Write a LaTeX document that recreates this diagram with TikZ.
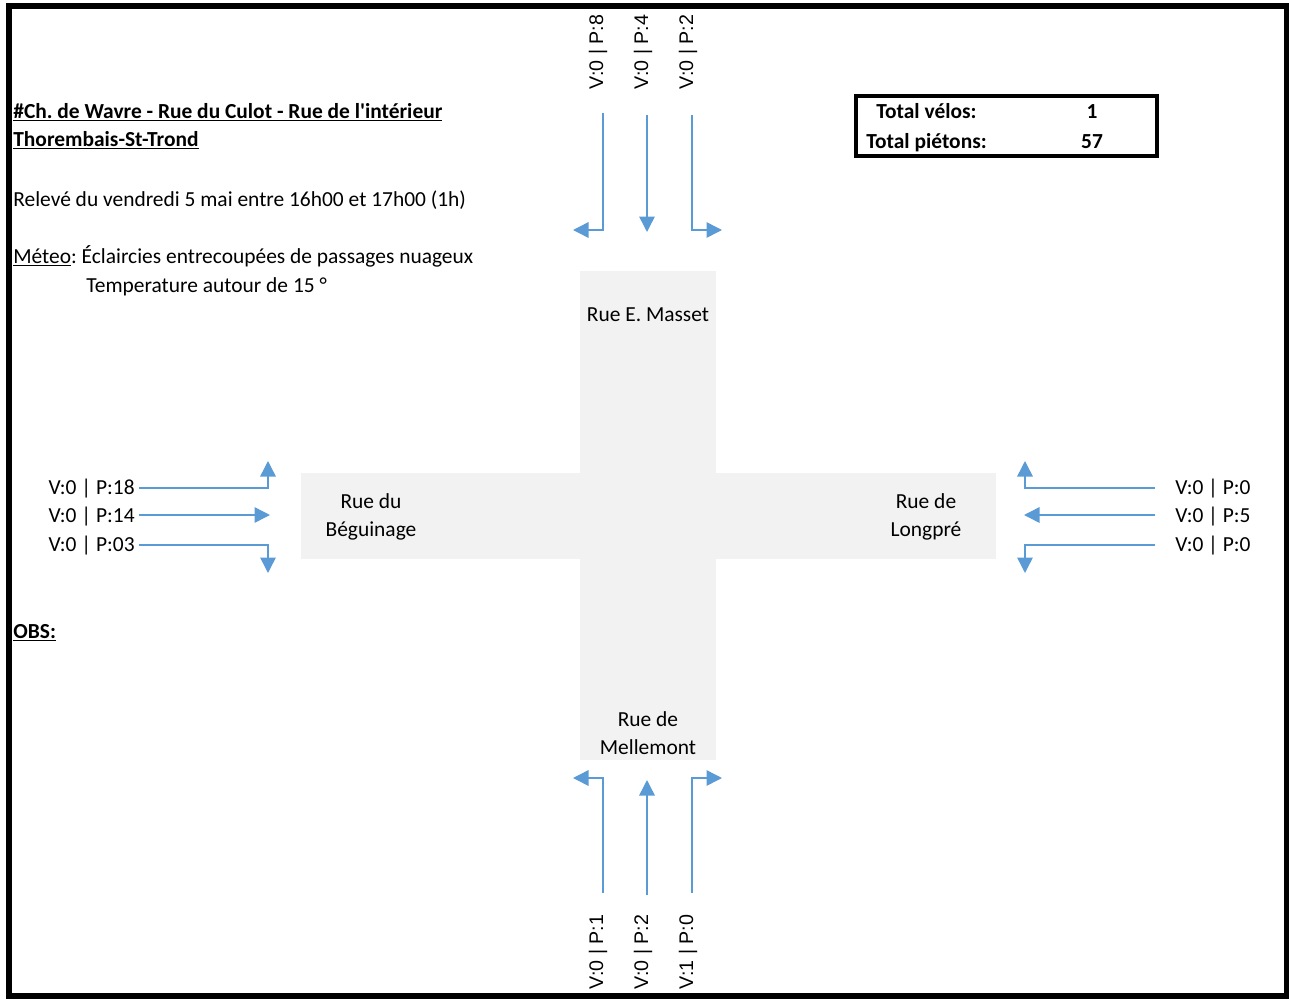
\documentclass[tikz,border=0pt]{standalone}
\usepackage{fontspec}
\setmainfont{Carlito}
\newfontfamily\armfont{Liberation Sans}
\usepackage{xcolor}
\usetikzlibrary{arrows.meta,calc}
\frenchspacing

\definecolor{roadgray}{HTML}{F2F2F2}
\definecolor{flowblue}{HTML}{5B9BD5}

\begin{document}
\begin{tikzpicture}[
  x=0.02cm, y=-0.02cm,
  txt/.style={font=\fontsize{12.2}{14}\selectfont, inner sep=0pt},
  hdr/.style={txt, font=\fontsize{12.2}{14}\selectfont\bfseries},
  road/.style={txt, align=center},
  cnt/.style={txt},
  vcnt/.style={font=\armfont\fontsize{11.2}{13}\selectfont, inner sep=0pt, rotate=90},
  flow/.style={draw=flowblue, line width=0.85pt, -{Triangle[length=3.1mm, width=3.1mm]}}
]
\useasboundingbox (0,0) rectangle (1289,1001);

% roads
\fill[roadgray] (580,271) rectangle (716,760);
\fill[roadgray] (301,473) rectangle (996,559);

% outer frame
\draw[line width=3.4pt] (9,6) rectangle (1287,996);

% header text
\node[hdr, anchor=base west] (title) at (13,118) {\underline{\#Ch. de Wavre - Rue du Culot - Rue de l\textquotesingle intérieur}};
\node[hdr, anchor=base west] (town) at (13,146) {\underline{Thorembais-St-Trond}};
\node[txt, anchor=base west] (date) at (13,206) {Relevé du vendredi 5 mai entre 16h00 et 17h00 (1h)};
\node[txt, anchor=base west] (meteo) at (13,263) {\underline{Méteo}: Éclaircies entrecoupées de passages nuageux};
\node[txt, anchor=base west] (temp) at (86,292) {Temperature autour de 15 °};
\node[hdr, anchor=base west] (obs) at (13,638) {\underline{OBS:}};

% totals
\draw[line width=2.4pt] (856,96) rectangle (1157,156);
\node[hdr, anchor=base west] (velos) at (876,118) {Total vélos:};
\node[hdr, anchor=base] (velosn) at (1092,118) {1};
\node[hdr, anchor=base west] (pietons) at (866,148) {Total piétons:};
\node[hdr, anchor=base] (pietonsn) at (1092,148) {57};

% road names
\node[road] (masset) at (648,315) {Rue E. Masset};
\node[road] (beguinage) at (371,517) {Rue du\\[2pt]Béguinage};
\node[road] (longpre) at (926,517) {Rue de\\[2pt]Longpré};
\node[road] (mellemont) at (648,733) {Rue de\\[2pt]Mellemont};

% counts north
\node[vcnt] (n1) at (598,52) {V:0 | P:8};
\node[vcnt] (n2) at (643,52) {V:0 | P:4};
\node[vcnt] (n3) at (688,52) {V:0 | P:2};
\coordinate (n1s) at (603,113);
\coordinate (n2s) at (647,115);
\coordinate (n3s) at (692,115);
\coordinate (n1e) at (573,230);
\coordinate (n2e) at (647,232);
\coordinate (n3e) at (722,230);
\draw[flow] (n1s) |- (n1e);
\draw[flow] (n2s) -- (n2e);
\draw[flow] (n3s) |- (n3e);

% counts south
\node[vcnt] (s1) at (598,952) {V:0 | P:1};
\node[vcnt] (s2) at (643,952) {V:0 | P:2};
\node[vcnt] (s3) at (688,952) {V:1 | P:0};
\coordinate (s1s) at (603,893);
\coordinate (s2s) at (647,895);
\coordinate (s3s) at (692,893);
\coordinate (s1e) at (573,778);
\coordinate (s2e) at (647,780);
\coordinate (s3e) at (722,778);
\draw[flow] (s1s) |- (s1e);
\draw[flow] (s2s) -- (s2e);
\draw[flow] (s3s) |- (s3e);

% counts west
\node[cnt, anchor=east] (w1) at (135,489) {V:0 | P:18};
\node[cnt, anchor=east] (w2) at (135,517) {V:0 | P:14};
\node[cnt, anchor=east] (w3) at (135,546) {V:0 | P:03};
\coordinate (w1e) at (268,461);
\coordinate (w2e) at (270,515);
\coordinate (w3e) at (268,573);
\draw[flow] (w1.east) ++(4,-1) -| (w1e);
\draw[flow] (w2.east) ++(4,-2) -- (w2e);
\draw[flow] (w3.east) ++(4,-1) -| (w3e);

% counts east
\node[cnt, anchor=west] (e1) at (1175,489) {V:0 | P:0};
\node[cnt, anchor=west] (e2) at (1175,517) {V:0 | P:5};
\node[cnt, anchor=west] (e3) at (1175,546) {V:0 | P:0};
\coordinate (e1e) at (1025,461);
\coordinate (e2e) at (1024,515);
\coordinate (e3e) at (1025,573);
\draw[flow] (e1.west) ++(-20,-1) -| (e1e);
\draw[flow] (e2.west) ++(-20,-2) -- (e2e);
\draw[flow] (e3.west) ++(-20,-1) -| (e3e);
\end{tikzpicture}
\end{document}
